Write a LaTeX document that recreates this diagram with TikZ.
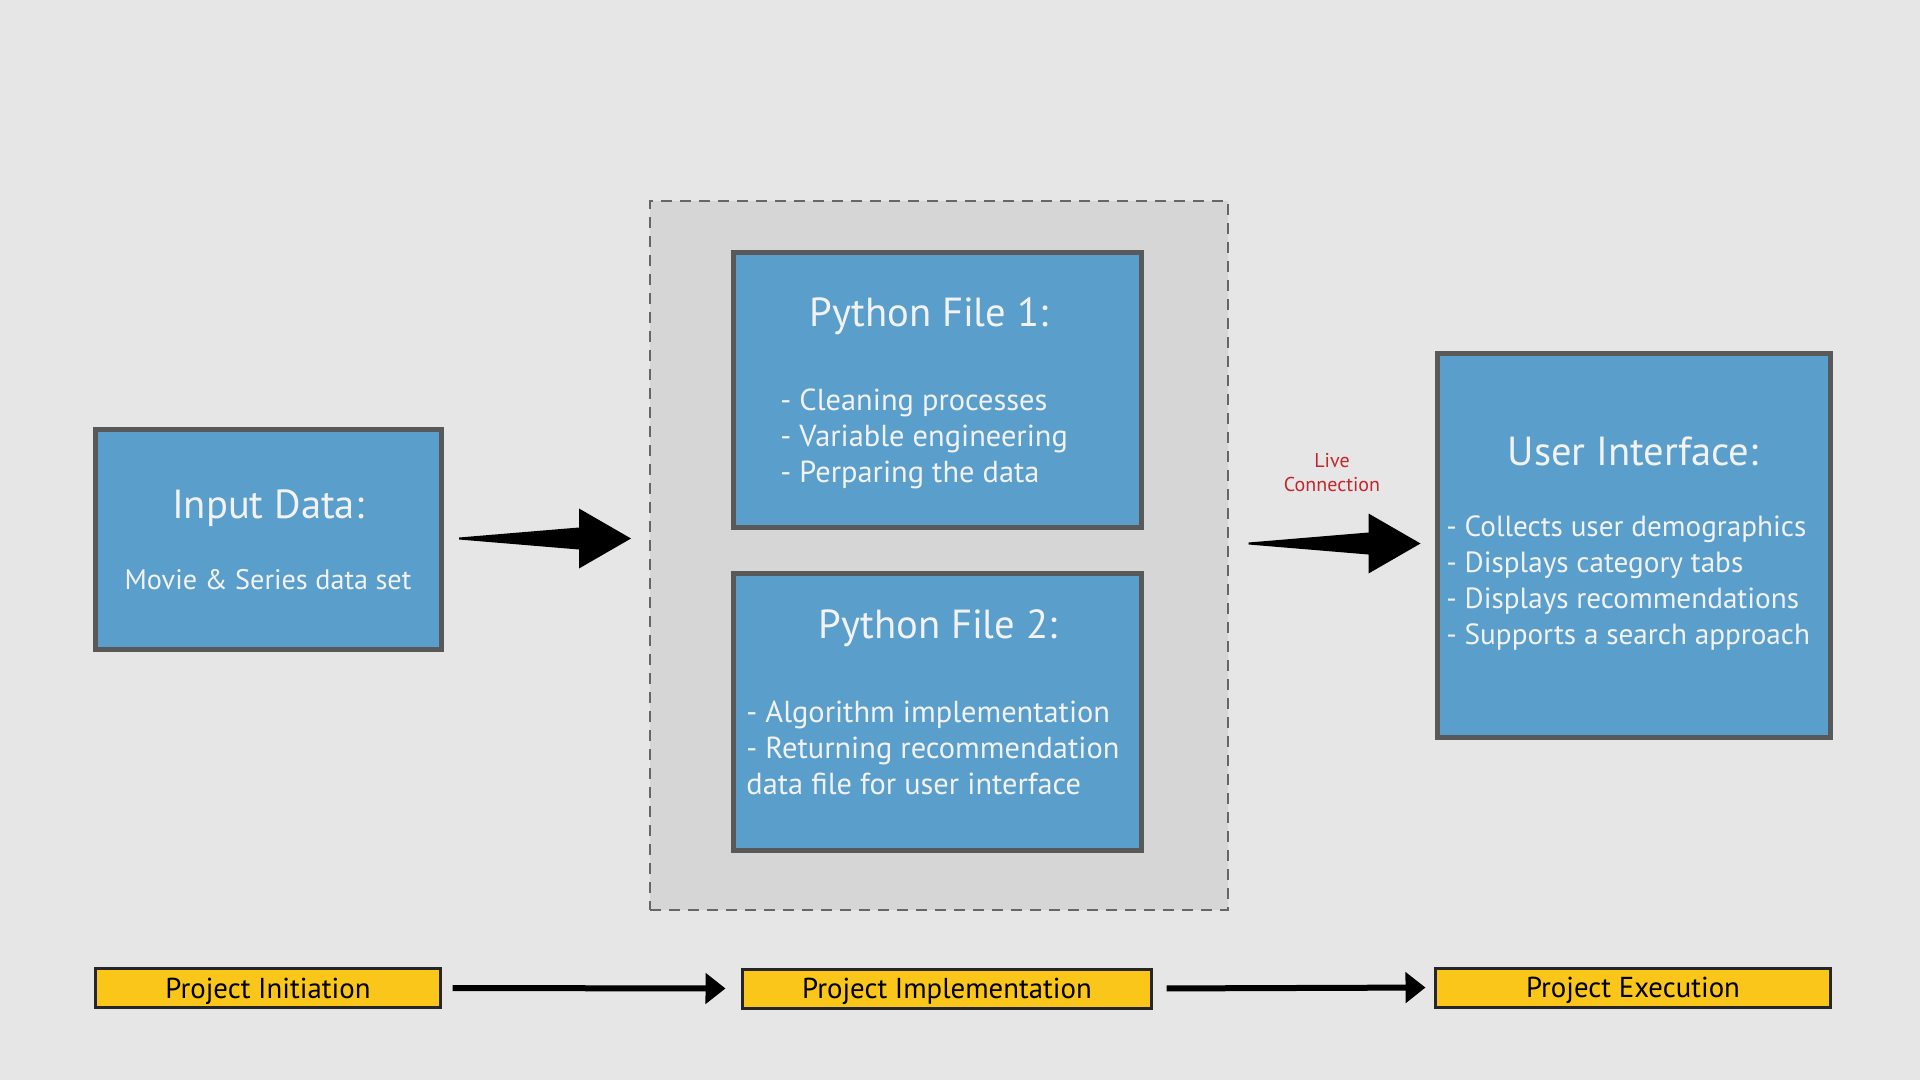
\documentclass[tikz,border=0pt]{standalone}
\usepackage{fontspec}
\setmainfont{PT Sans}
\usetikzlibrary{arrows.meta,calc}
\definecolor{bg}{HTML}{E6E6E6}
\definecolor{cont}{HTML}{D6D6D6}
\definecolor{contline}{HTML}{666666}
\definecolor{boxblue}{HTML}{5A9ECB}
\definecolor{boxborder}{HTML}{595959}
\definecolor{ylw}{HTML}{F9C619}
\definecolor{livered}{HTML}{C1272D}
\definecolor{txt}{HTML}{F2F2F2}
\begin{document}
\begin{tikzpicture}[x=0.5pt,y=-0.5pt,
  bluebox/.style={draw=boxborder, line width=2.5pt, fill=boxblue, inner sep=0pt, outer sep=0pt},
  phasebox/.style={draw=black!85, line width=1.5pt, fill=ylw, inner sep=0pt, outer sep=0pt,
    font={\fontsize{14.4pt}{16pt}\selectfont}, text=black, text height=12.2pt, text depth=2pt},
  titletext/.style={text=txt, inner sep=0pt, font={\fontsize{20.3pt}{24pt}\selectfont}},
  bodytext/.style={text=txt, inner sep=0pt, align=left, font={\fontsize{15.2pt}{18pt}\selectfont}},
  phasearrow/.style={line width=3pt, -{Triangle[length=10pt,width=15pt]}},
  fatarrow/.pic={\fill[black] (0,-1) -- (120,-11) -- (120,-30) -- (172,0) -- (120,30) -- (120,11) -- (0,1) -- cycle;}
]
\fill[bg] (0,0) rectangle (1920,1080);
\useasboundingbox (0,0) rectangle (1920,1080);

% container
\node[draw=contline, fill=cont, line width=1pt, dash pattern=on 5.5pt off 4pt,
      minimum width=289pt, minimum height=354.5pt, inner sep=0pt] (cont) at (939,555.5) {};

% boxes
\node[bluebox, minimum width=173pt, minimum height=110pt] (input) at (268,539.5) {};
\node[bluebox, minimum width=204pt, minimum height=137.5pt] (py1) at (937.5,390) {};
\node[bluebox, minimum width=204pt, minimum height=138.5pt] (py2) at (937.5,711.5) {};
\node[bluebox, minimum width=196.5pt, minimum height=192pt] (ui) at (1634,545.5) {};

% texts
\node[titletext] (inputT) at (268,508) {Input Data:};
\node[text=txt, inner sep=0pt, font={\fontsize{14.1pt}{16pt}\selectfont}] (inputB) at (268,580) {Movie \& Series data set};

\node[titletext] (py1T) at (929,316) {Python File 1:};
\node[bodytext, anchor=west] (py1B) at (780,439) {- Cleaning processes\\- Variable engineering\\- Perparing the data};

\node[titletext] (py2T) at (938,628) {Python File 2:};
\node[bodytext, anchor=west] (py2B) at (746,748) {- Algorithm implementation\\- Returning recommendation\\data file for user interface};

\node[titletext] (uiT) at (1633,451) {User Interface:};
\node[bodytext, anchor=west, font={\fontsize{14.6pt}{18pt}\selectfont}] (uiB) at (1446,583.5) {- Collects user demographics\\- Displays category tabs\\- Displays recommendations\\- Supports a search approach};

\node[text=livered, align=center, inner sep=0pt, font={\fontsize{10pt}{12pt}\selectfont}] (live) at (1332,473) {Live\\Connection};

% fat arrows
\coordinate (fa1) at ($(input.east)+(18,-1)$);
\coordinate (fa2) at ($(ui.west)+(-189,-2)$);
\pic at (fa1) {fatarrow};
\pic at (fa2) {fatarrow};

% phase boxes
\node[phasebox, minimum width=172.5pt, minimum height=19.5pt] (ph1) at (268,988) {Project Initiation};
\node[phasebox, minimum width=204.5pt, minimum height=19.5pt] (ph2) at (947,988.5) {Project Implementation};
\node[phasebox, minimum width=197.5pt, minimum height=19.5pt] (ph3) at (1633,987.5) {Project Execution};

\draw[phasearrow, shorten <=6pt, shorten >=8.5pt] (ph1.east) -- (ph2.west);
\draw[phasearrow, shorten <=7.5pt, shorten >=5pt] (ph2.east) -- (ph3.west);
\end{tikzpicture}
\end{document}
